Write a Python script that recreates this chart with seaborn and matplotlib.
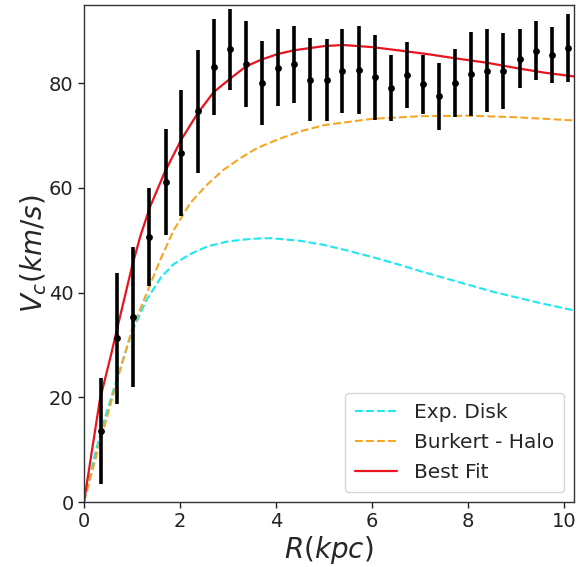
import matplotlib
matplotlib.use("Agg")
import matplotlib.pyplot as plt
import seaborn as sns
import pandas as pd

# Observed rotation curve
r_obs = [0.36, 0.69, 1.03, 1.36, 1.70, 2.03, 2.37, 2.70, 3.04, 3.37,
         3.71, 4.04, 4.38, 4.71, 5.05, 5.38, 5.72, 6.05, 6.39, 6.72,
         7.06, 7.39, 7.73, 8.06, 8.40, 8.73, 9.07, 9.40, 9.74, 10.07]
v_obs = [13.6, 31.3, 35.4, 50.6, 61.1, 66.7, 74.6, 83.1, 86.5, 83.7,
         80.0, 83.0, 83.6, 80.7, 80.6, 82.3, 82.5, 81.1, 79.0, 81.6,
         79.8, 77.5, 80.1, 81.7, 82.4, 82.3, 84.7, 86.2, 85.4, 86.7]
v_err = [10.1, 12.5, 13.4, 9.3, 10.1, 12.0, 11.7, 9.2, 7.7, 8.2,
         8.0, 7.3, 7.3, 7.9, 7.8, 8.0, 8.4, 8.1, 6.3, 6.3,
         5.6, 6.4, 6.5, 8.0, 7.9, 7.3, 5.7, 5.6, 5.3, 6.5]

# Exponential disk
r_disk = [0, 0.2, 0.35, 0.5, 0.7, 1.0, 1.3, 1.6, 1.86, 2.2, 2.56, 3.0, 3.5,
          3.9, 4.5, 5.0, 5.5, 6.0, 6.5, 7.0, 7.5, 8.0, 8.5, 9.0, 9.5, 10.2]
v_disk = [0, 8.0, 13.5, 18.0, 24.0, 32.5, 38.6, 42.9, 45.4, 47.3, 48.8, 49.8,
          50.3, 50.4, 49.9, 49.1, 48.0, 46.8, 45.5, 44.1, 42.8, 41.5, 40.2,
          39.1, 38.0, 36.6]

# Burkert halo
r_halo = [0, 0.35, 0.7, 1.0, 1.31, 1.59, 1.86, 2.21, 2.56, 2.91, 3.26, 3.6,
          4.02, 4.5, 5.0, 6.0, 7.0, 8.0, 9.0, 10.2]
v_halo = [0, 12.0, 23.5, 33.0, 40.0, 46.3, 51.8, 57.1, 60.6, 63.5, 65.7, 67.6,
          69.2, 70.8, 72.0, 73.2, 73.7, 73.8, 73.5, 72.9]

# Best fit
r_fit = [0, 0.33, 0.56, 0.7, 1.0, 1.17, 1.38, 1.69, 2.03, 2.37, 2.7, 3.06,
         3.37, 3.69, 4.04, 4.38, 5.0, 5.4, 6.0, 6.7, 7.2, 7.7, 8.4, 9.0, 9.6,
         10.2]
v_fit = [0, 19.5, 28.0, 33.5, 45.0, 50.7, 56.5, 63.2, 69.3, 74.3, 78.3, 81.0,
         83.2, 84.5, 85.6, 86.3, 87.1, 87.3, 86.9, 86.1, 85.5, 84.8, 83.9,
         82.9, 82.0, 81.3]

x_ticks = [0, 2, 4, 6, 8, 10]
y_ticks = [0, 20, 40, 60, 80]

sns.set_style("ticks")
plt.rcParams['font.family'] = ['DejaVu Sans']
plt.rcParams['mathtext.fontset'] = 'dejavusans'

fig = plt.figure(figsize=(5.78, 5.67), dpi=100)
ax = fig.add_axes([0.1453, 0.1146, 0.8477, 0.8771])

df_disk = pd.DataFrame({"R": r_disk, "V": v_disk})
df_halo = pd.DataFrame({"R": r_halo, "V": v_halo})
df_fit = pd.DataFrame({"R": r_fit, "V": v_fit})
df_obs = pd.DataFrame({"R": r_obs, "V": v_obs, "err": v_err})

ax.errorbar(df_obs["R"], df_obs["V"], yerr=df_obs["err"], fmt='none',
            ecolor='black', elinewidth=2.6, capsize=0, zorder=3)
sns.scatterplot(data=df_obs, x="R", y="V", ax=ax, color='black', s=24,
                edgecolor='black', linewidth=0, zorder=4, legend=False)

sns.lineplot(data=df_disk, x="R", y="V", ax=ax, color='#1ee8ee',
             linestyle='--', linewidth=1.5, label='Exp. Disk', sort=False,
             zorder=2)
sns.lineplot(data=df_halo, x="R", y="V", ax=ax, color='#f5a623',
             linestyle='--', linewidth=1.5, label='Burkert - Halo', sort=False,
             zorder=2)
sns.lineplot(data=df_fit, x="R", y="V", ax=ax, color='#e8141e',
             linestyle='-', linewidth=1.6, label='Best Fit', sort=False,
             zorder=2)

ax.set_xlim(0, 10.2)
ax.set_ylim(0, 95)
ax.set_xticks(x_ticks)
ax.set_yticks(y_ticks)
ax.tick_params(axis='both', labelsize=14, length=4, width=1, colors='#222222')
for s in ax.spines.values():
    s.set_visible(True)
    s.set_color('#333333')
    s.set_linewidth(1.0)

ax.set_xlabel(r'$R(kpc)$', fontsize=20, labelpad=2)
ax.set_ylabel(r'$V_c(km/s)$', fontsize=20, labelpad=0)

leg = ax.legend(loc='lower right', fontsize=14.5, frameon=True,
                borderpad=0.5, handlelength=2.1, labelspacing=0.55,
                handletextpad=0.8)
leg.get_frame().set_edgecolor('#cccccc')

fig.savefig('out.png', dpi=100)
